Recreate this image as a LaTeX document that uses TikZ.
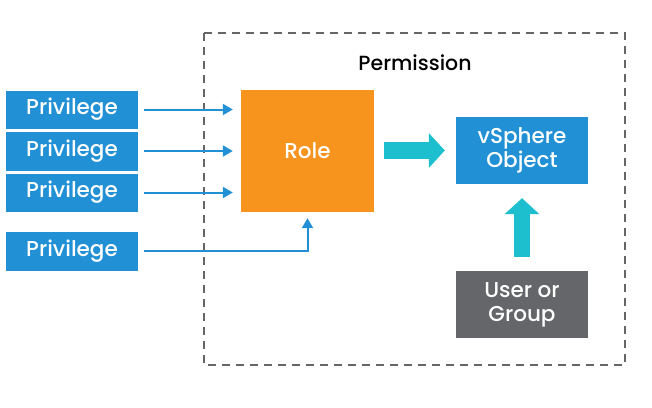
\documentclass[tikz,border=0pt]{standalone}
\usepackage{fontspec}
\IfFontExistsTF{Poppins Medium}{\setmainfont{Poppins Medium}}{\setmainfont{Poppins}}
\usetikzlibrary{arrows.meta}
\definecolor{vblue}{HTML}{2190D5}
\definecolor{vorange}{HTML}{F7941E}
\definecolor{vcyan}{HTML}{1DBFCF}
\definecolor{vgray}{HTML}{646669}
\definecolor{dgray}{HTML}{666666}
\tikzset{
  box/.style={fill=#1, text=white, minimum width=132pt, inner sep=0pt, align=center, font=\fontsize{21.5}{24}\selectfont},
  thinarrow/.style={draw=vblue, line width=2pt, -{Triangle[length=10pt,width=11pt]}},
  fatarrow/.style={draw=vcyan, line width=16.5pt, -{Triangle[length=16pt,width=34pt]}},
}
\begin{document}
\begin{tikzpicture}[x=1pt,y=-1pt]
\useasboundingbox (0,0) rectangle (652,407);
\draw[dgray, line width=2.8pt, dash pattern=on 8pt off 6pt] (204,33) rectangle (625,365);
\node[font=\fontsize{20.5}{24}\selectfont, text=black] (perm) at (415,63) {Permission};
\node[box=vblue, minimum height=38pt] (p1) at (72,109.5) {Privilege};
\node[box=vblue, minimum height=39pt] (p2) at (72,151) {Privilege};
\node[box=vblue, minimum height=38pt] (p3) at (72,192.5) {Privilege};
\node[box=vblue, minimum height=39pt] (p4) at (72,251) {Privilege};
\node[box=vorange, minimum width=133pt, minimum height=122pt] (role) at (307.5,151) {Role};
\node[box=vblue, minimum height=67pt] (obj) at (522,150.5) {vSphere\\Object};
\node[box=vgray, minimum height=67pt] (user) at (522,304.5) {User or\\Group};
\draw[thinarrow, shorten <=6pt, shorten >=8pt] (p1.east) -- (p1.east -| role.west);
\draw[thinarrow, shorten <=6pt, shorten >=8pt] (p2.east) -- (p2.east -| role.west);
\draw[thinarrow, shorten <=6pt, shorten >=8pt] (p3.east) -- (p3.east -| role.west);
\draw[thinarrow, shorten <=6pt, shorten >=6pt] (p4.east) -| (role.south);
\draw[fatarrow, shorten <=10pt, shorten >=11pt] (role.east |- obj.west) -- (obj.west);
\draw[fatarrow, shorten <=14pt, shorten >=14pt] (user.north) -- (obj.south);
\end{tikzpicture}
\end{document}
